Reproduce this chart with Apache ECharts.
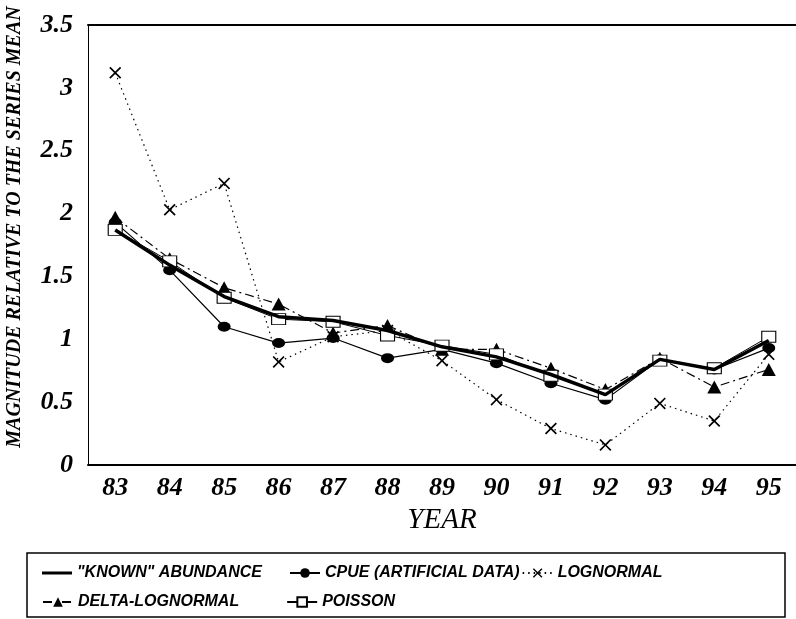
<!DOCTYPE html>
<html>
<head>
<meta charset="utf-8">
<script src="https://cdn.jsdelivr.net/npm/echarts@6/dist/echarts.min.js"></script>
<style>
  html, body { margin: 0; padding: 0; background: #fff; }
  #chart { width: 796px; height: 619px; }
</style>
</head>
<body>
<div id="chart"></div>
<script>
// 数据
var years = ['83', '84', '85', '86', '87', '88', '89', '90', '91', '92', '93', '94', '95'];
var known = [1.87, 1.59, 1.34, 1.18, 1.15, 1.07, 0.94, 0.86, 0.72, 0.56, 0.84, 0.76, 0.99];
var cpue = [1.93, 1.55, 1.10, 0.97, 1.01, 0.85, 0.92, 0.81, 0.65, 0.52, 0.84, 0.76, 0.93];
var lognormal = [3.12, 2.03, 2.24, 0.82, 1.02, 1.07, 0.83, 0.52, 0.29, 0.16, 0.49, 0.35, 0.88];
var deltaLog = [1.97, 1.64, 1.41, 1.28, 1.05, 1.11, 0.92, 0.92, 0.77, 0.60, 0.85, 0.62, 0.76];
var poisson = [1.87, 1.62, 1.33, 1.16, 1.14, 1.03, 0.95, 0.88, 0.71, 0.56, 0.83, 0.77, 1.02];
var yTicks = [0, 0.5, 1, 1.5, 2, 2.5, 3, 3.5];

var names = ['"KNOWN" ABUNDANCE', 'CPUE (ARTIFICIAL DATA)', 'LOGNORMAL', 'DELTA-LOGNORMAL', 'POISSON'];
var xSymbol = 'path://M0,1L1,0L5,4L9,0L10,1L6,5L10,9L9,10L5,6L1,10L0,9L4,5Z';

var tickFont = { fontFamily: 'Liberation Serif', fontStyle: 'italic', fontWeight: 'bold', fontSize: 26, color: '#000' };
var legendFont = { fontFamily: 'Liberation Sans', fontStyle: 'italic', fontWeight: 'bold', fontSize: 16, color: '#000' };

var chart = echarts.init(document.getElementById('chart'));
var option = {
    backgroundColor: '#fff',
    animation: false,
    grid: { left: 88, right: 0, top: 25, bottom: 154 },
    xAxis: [{
        type: 'category',
        data: years,
        boundaryGap: true,
        axisLine: { lineStyle: { color: '#000', width: 2 } },
        axisTick: { show: false },
        axisLabel: Object.assign({ margin: 10 }, tickFont),
        name: 'YEAR',
        nameLocation: 'middle',
        nameGap: 40,
        nameTextStyle: { fontFamily: 'Liberation Serif', fontStyle: 'italic', fontSize: 29, color: '#000' }
    }, {
        type: 'category',
        data: years,
        position: 'top',
        axisLine: { lineStyle: { color: '#000', width: 2 } },
        axisTick: { show: false },
        axisLabel: { show: false }
    }],
    yAxis: {
        type: 'value',
        min: yTicks[0],
        max: yTicks[yTicks.length - 1],
        interval: 0.5,
        axisLine: { show: true, lineStyle: { color: '#000', width: 1 } },
        axisTick: { show: false },
        splitLine: { show: false },
        axisLabel: Object.assign({ margin: 15 }, tickFont)
    },
    legend: [{
        left: 37, top: 560,
        icon: 'rect', itemWidth: 30, itemHeight: 3,
        textStyle: legendFont,
        data: names.slice(0, 1)
    }, {
        left: 284, top: 560,
        itemWidth: 30, itemHeight: 12, itemGap: 2,
        textStyle: legendFont,
        data: names.slice(1, 3)
    }, {
        left: 37, top: 589,
        itemWidth: 30, itemHeight: 12, itemGap: 47,
        textStyle: legendFont,
        data: names.slice(3)
    }],
    graphic: [{
        type: 'rect',
        shape: { x: 27, y: 553, width: 758, height: 64 },
        style: { fill: 'none', stroke: '#000', lineWidth: 1.5 }
    }, {
        type: 'text',
        x: 15, y: 227,
        rotation: Math.PI / 2,
        style: {
            text: 'MAGNITUDE RELATIVE TO THE SERIES MEAN',
            fontFamily: 'Liberation Serif', fontStyle: 'italic', fontWeight: 'bold', fontSize: 20,
            fill: '#000', align: 'center', verticalAlign: 'middle'
        }
    }],
    series: [{
        name: names[0], type: 'line', data: known, z: 5,
        showSymbol: false, symbol: 'none',
        lineStyle: { color: '#000', width: 3.5 }, itemStyle: { color: '#000' }
    }, {
        name: names[1], type: 'line', data: cpue,
        symbol: 'circle', symbolSize: [13, 10],
        lineStyle: { color: '#000', width: 1.2 }, itemStyle: { color: '#000' }
    }, {
        name: names[2], type: 'line', data: lognormal,
        symbol: xSymbol, symbolSize: 12,
        lineStyle: { color: '#000', width: 1.2, type: [1.5, 4] }, itemStyle: { color: '#000' }
    }, {
        name: names[3], type: 'line', data: deltaLog,
        symbol: 'triangle', symbolSize: [14, 13],
        lineStyle: { color: '#000', width: 1.2, type: [9, 4, 2, 4] }, itemStyle: { color: '#000' }
    }, {
        name: names[4], type: 'line', data: poisson,
        symbol: 'rect', symbolSize: [14, 11],
        lineStyle: { color: '#000', width: 1 }, itemStyle: { color: '#fff', borderColor: '#000', borderWidth: 1 }
    }]
};
chart.setOption(option);
</script>
</body>
</html>
